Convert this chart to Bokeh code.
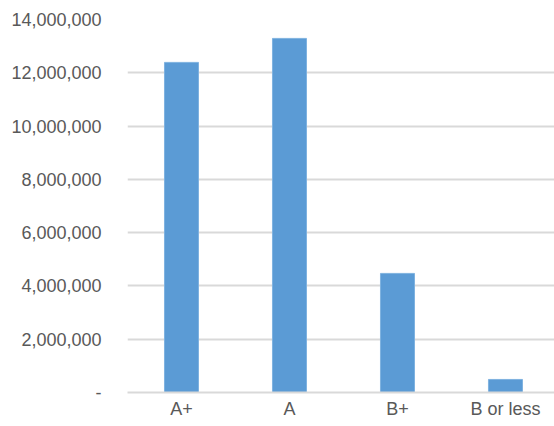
from bokeh.plotting import figure
from bokeh.models import Range1d, NumeralTickFormatter, FixedTicker
from bokeh.embed import file_html
from bokeh.resources import INLINE

categories = ["A+", "A", "B+", "B or less"]
values = [12390000, 13290000, 4470000, 490000]
y_ticks = [0, 2000000, 4000000, 6000000, 8000000, 10000000, 12000000, 14000000]

xpos = [i + 0.5 for i in range(len(categories))]

p = figure(x_range=Range1d(0, 3.954), y_range=Range1d(0, 14000000),
           width=554, height=426, output_backend="svg", toolbar_location=None,
           min_border_left=127, min_border_right=0, min_border_top=19, min_border_bottom=34)
p.vbar(x=xpos, top=values, width=0.315, fill_color="#5B9BD5", line_color="#7FB2E0", line_width=1)

p.outline_line_color = None
p.background_fill_color = "white"
p.border_fill_color = "white"

p.yaxis.ticker = FixedTicker(ticks=y_ticks)
p.yaxis.formatter = NumeralTickFormatter(format="0,0")
p.yaxis.major_label_overrides = {0: "-"}
p.yaxis.axis_line_color = None
p.yaxis.major_tick_line_color = None
p.yaxis.minor_tick_line_color = None
p.yaxis.major_label_standoff = 20
p.yaxis.major_label_text_font = "Liberation Sans"
p.yaxis.major_label_text_font_size = "18px"
p.yaxis.major_label_text_color = "#595959"

p.xaxis.ticker = FixedTicker(ticks=xpos)
p.xaxis.major_label_overrides = {x: c for x, c in zip(xpos, categories)}
p.xaxis.axis_line_color = "#D9D9D9"
p.xaxis.axis_line_width = 2
p.xaxis.major_tick_line_color = None
p.xaxis.minor_tick_line_color = None
p.xaxis.major_tick_out = 0
p.xaxis.major_tick_in = 0
p.xaxis.major_label_standoff = 6
p.xaxis.major_label_text_font = "Liberation Sans"
p.xaxis.major_label_text_font_size = "18px"
p.xaxis.major_label_text_color = "#595959"

p.xgrid.grid_line_color = None
p.ygrid.grid_line_color = "#D9D9D9"
p.ygrid.grid_line_width = 2

open("out.html", "w").write(file_html(p, INLINE))
